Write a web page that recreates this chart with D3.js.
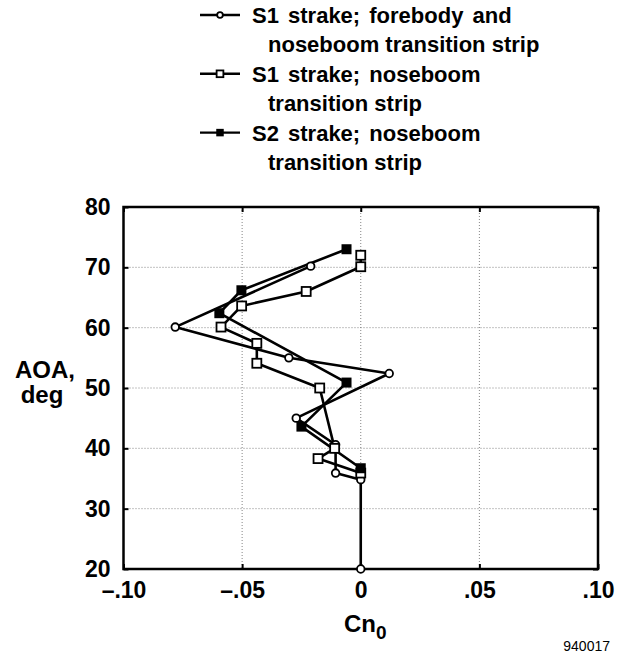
<!DOCTYPE html>
<html>
<head>
<meta charset="utf-8">
<script src="https://cdn.jsdelivr.net/npm/d3@7/dist/d3.min.js"></script>
<style>
  html, body { margin: 0; padding: 0; background: #fff; }
  svg { display: block; }
  text { font-family: "Liberation Sans", Arial, sans-serif; fill: #000; }
</style>
</head>
<body>
<script>
// Yawing moment at zero sideslip versus angle of attack
const seriesNames = [
  ["S1 strake; forebody and", "noseboom transition strip"],
  ["S1 strake; noseboom", "transition strip"],
  ["S2 strake; noseboom", "transition strip"]
];
const aoaS1Full = [20, 34.8, 35.9, 40.6, 45.0, 52.4, 55.0, 60.1, 70.2];
const cnS1Full  = [0, 0, -0.0106, -0.0106, -0.0272, 0.012, -0.0303, -0.0782, -0.0211];
const aoaS1Boom = [35.9, 38.3, 40.0, 50.0, 54.1, 57.4, 60.1, 63.6, 66.0, 70.1, 72.0];
const cnS1Boom  = [0, -0.0180, -0.0110, -0.0173, -0.0438, -0.0438, -0.0589, -0.0502, -0.0230, 0, 0];
const aoaS2Boom = [36.7, 43.6, 50.9, 62.4, 66.2, 73.0];
const cnS2Boom  = [0, -0.0250, -0.0060, -0.0596, -0.0503, -0.0060];
const xTicks = [-0.10, -0.05, 0, 0.05, 0.10];
const xTickLabels = ["\u2013.10", "\u2013.05", "0", ".05", ".10"];
const yTicks = [20, 30, 40, 50, 60, 70, 80];
const markerKinds = ["circle", "square", "filled"];

const W = 620, H = 658;
const FS = 23;
const svg = d3.select("body").append("svg").attr("width", W).attr("height", H);

const x = d3.scaleLinear().domain([-0.10, 0.10]).range([123.5, 598]);
const y = d3.scaleLinear().domain([20, 80]).range([569, 207]);

// dotted grid
const grid = svg.append("g");
grid.selectAll("line.gx").data(xTicks.slice(1, -1)).join("line")
  .attr("x1", d => x(d)).attr("x2", d => x(d))
  .attr("y1", y(80)).attr("y2", y(20))
  .attr("stroke", "#666").attr("stroke-width", 0.8).attr("stroke-dasharray", "1,2");
grid.selectAll("line.gy").data(yTicks.slice(1, -1)).join("line")
  .attr("x1", x(-0.10)).attr("x2", x(0.10))
  .attr("y1", d => y(d)).attr("y2", d => y(d))
  .attr("stroke", "#666").attr("stroke-width", 0.8).attr("stroke-dasharray", "1,2");

// axes with inward ticks
const fmtX = d => xTickLabels[xTicks.indexOf(d)];
const axB = svg.append("g").attr("transform", `translate(0,${y(20)})`)
  .call(d3.axisBottom(x).tickValues(xTicks).tickFormat(fmtX).tickSizeInner(-5).tickSizeOuter(0).tickPadding(13));
const axT = svg.append("g").attr("transform", `translate(0,${y(80)})`)
  .call(d3.axisTop(x).tickValues(xTicks).tickFormat("").tickSizeInner(-5).tickSizeOuter(0));
const axL = svg.append("g").attr("transform", `translate(${x(-0.10)},0)`)
  .call(d3.axisLeft(y).tickValues(yTicks).tickFormat(d3.format("d")).tickSizeInner(-5).tickSizeOuter(0).tickPadding(13));
const axR = svg.append("g").attr("transform", `translate(${x(0.10)},0)`)
  .call(d3.axisRight(y).tickValues(yTicks).tickFormat("").tickSizeInner(-5).tickSizeOuter(0));
[axB, axT, axL, axR].forEach(a => {
  a.select(".domain").remove();
  a.selectAll(".tick line").attr("stroke", "#000").attr("stroke-width", 2);
  a.selectAll(".tick text").attr("font-size", FS).attr("font-weight", "bold")
    .attr("font-family", "'Liberation Sans', Arial, sans-serif").attr("fill", "#000");
});

// frame
svg.append("rect")
  .attr("x", x(-0.10)).attr("y", y(80))
  .attr("width", x(0.10) - x(-0.10)).attr("height", y(20) - y(80))
  .attr("fill", "none").attr("stroke", "#000").attr("stroke-width", 2.5);

// series
const series = [
  { aoa: aoaS1Full, cn: cnS1Full, kind: markerKinds[0] },
  { aoa: aoaS1Boom, cn: cnS1Boom, kind: markerKinds[1] },
  { aoa: aoaS2Boom, cn: cnS2Boom, kind: markerKinds[2] }
];
const line = d3.line().x(d => x(d[0])).y(d => y(d[1]));

function drawMarker(g, kind, cx, cy, scale) {
  const s = scale || 1;
  if (kind === "circle") {
    g.append("circle").attr("cx", cx).attr("cy", cy).attr("r", 3.8 * s)
      .attr("fill", "#fff").attr("stroke", "#000").attr("stroke-width", 1.8);
  } else if (kind === "square") {
    const h = 4.5 * s;
    g.append("rect").attr("x", cx - h).attr("y", cy - h).attr("width", 2 * h).attr("height", 2 * h)
      .attr("fill", "#fff").attr("stroke", "#000").attr("stroke-width", 1.8);
  } else {
    const h = 5 * s;
    g.append("rect").attr("x", cx - h).attr("y", cy - h).attr("width", 2 * h).attr("height", 2 * h)
      .attr("fill", "#000");
  }
}

const plot = svg.append("g");
series.forEach(s => {
  const pts = s.cn.map((c, i) => [c, s.aoa[i]]);
  plot.append("path").datum(pts).attr("d", line)
    .attr("fill", "none").attr("stroke", "#000").attr("stroke-width", 2.6).attr("stroke-linejoin", "round");
});
series.forEach(s => {
  const g = plot.append("g");
  s.cn.forEach((c, i) => drawMarker(g, s.kind, x(c), y(s.aoa[i])));
});

// legend
const LFS = 22;
const legend = svg.append("g");
const legendTop = [23, 81.8, 140.6];
seriesNames.forEach((lines, i) => {
  const by = legendTop[i];
  const my = by - 8;
  legend.append("line").attr("x1", 200).attr("x2", 240).attr("y1", my).attr("y2", my)
    .attr("stroke", "#000").attr("stroke-width", 2.4);
  drawMarker(legend, markerKinds[i], 220, my, 0.75);
  legend.append("text").attr("x", 252).attr("y", by)
    .attr("font-size", LFS).attr("font-weight", "bold").attr("word-spacing", 3).text(lines[0]);
  legend.append("text").attr("x", 268).attr("y", by + 29.4)
    .attr("font-size", LFS).attr("font-weight", "bold").text(lines[1]);
});

// axis titles
svg.append("text").attr("x", 45).attr("y", 378).attr("text-anchor", "middle")
  .attr("font-size", 24).attr("font-weight", "bold").text("AOA,");
svg.append("text").attr("x", 42).attr("y", 403).attr("text-anchor", "middle")
  .attr("font-size", 24).attr("font-weight", "bold").text("deg");

const xt = svg.append("text").attr("x", 344).attr("y", 632)
  .attr("font-size", 24).attr("font-weight", "bold");
xt.append("tspan").text("Cn");
xt.append("tspan").attr("dy", 7).attr("font-size", 19).text("0");

svg.append("text").attr("x", 610).attr("y", 651).attr("text-anchor", "end")
  .attr("font-size", 14).text("940017");
</script>
</body>
</html>
